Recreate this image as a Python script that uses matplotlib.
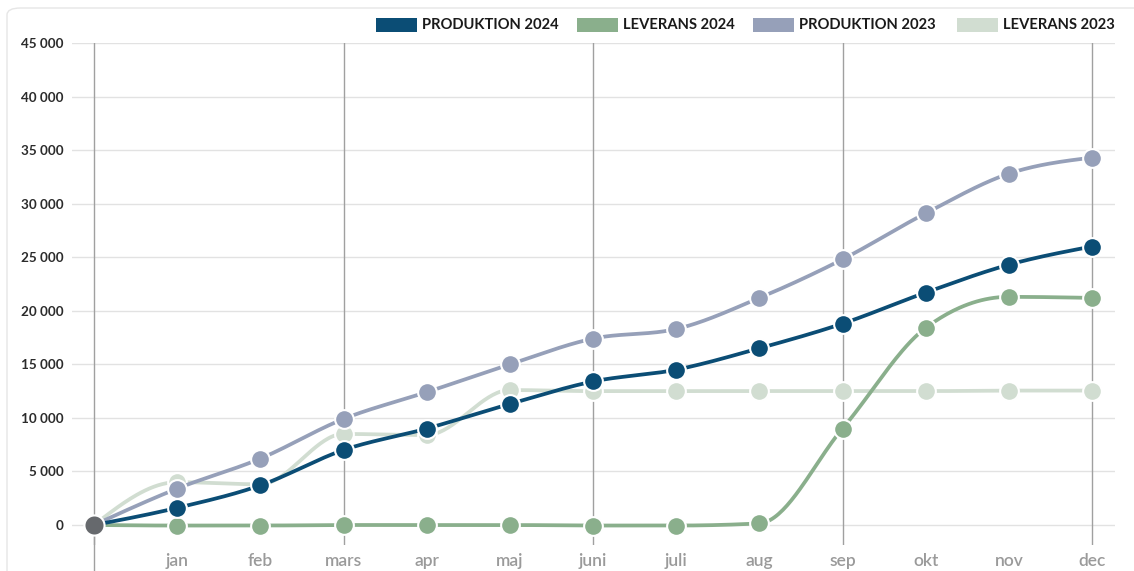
import numpy as np
import matplotlib
matplotlib.use("Agg")
import matplotlib.pyplot as plt
from matplotlib.patches import Rectangle, FancyBboxPatch
from matplotlib.ticker import FuncFormatter

# ---------------- data ----------------
months = ["", "jan", "feb", "mars", "apr", "maj", "juni", "juli", "aug", "sep", "okt", "nov", "dec"]
produktion_2024 = [0, 1600, 3700, 7000, 9000, 11300, 13400, 14500, 16500, 18800, 21700, 24300, 26000]
leverans_2024 = [0, -50, -50, 0, 0, 0, -50, -50, 150, 9000, 18400, 21300, 21200]
produktion_2023 = [0, 3400, 6200, 9900, 12400, 15000, 17400, 18300, 21200, 24800, 29100, 32800, 34300]
leverans_2023 = [0, 4000, 3800, 8500, 8400, 12600, 12500, 12500, 12500, 12500, 12500, 12550, 12550]
series_names = ["PRODUKTION 2024", "LEVERANS 2024", "PRODUKTION 2023", "LEVERANS 2023"]
series_colors = ["#0b4d75", "#8aaf8c", "#96a0b9", "#d1ddd1"]
y_ticks = [0, 5000, 10000, 15000, 20000, 25000, 30000, 35000, 40000, 45000]
vlines_at = [0, 3, 6, 9, 12]
start_color = "#66696d"


def monotone_x(xs, ys, n=40):
    xs = np.asarray(xs, float)
    ys = np.asarray(ys, float)
    h = np.diff(xs)
    s = np.diff(ys) / h
    m = np.zeros_like(ys)
    for i in range(1, len(xs) - 1):
        h0, h1 = h[i - 1], h[i]
        s0, s1 = s[i - 1], s[i]
        p = (s0 * h1 + s1 * h0) / (h0 + h1)
        m[i] = (np.sign(s0) + np.sign(s1)) * min(abs(s0), abs(s1), 0.5 * abs(p))
    m[0] = (3 * s[0] - m[1]) / 2
    m[-1] = (3 * s[-1] - m[-2]) / 2
    px, py = [], []
    for i in range(len(xs) - 1):
        t = np.linspace(0, 1, n)
        dx = h[i]
        x0, x1, y0, y1 = xs[i], xs[i + 1], ys[i], ys[i + 1]
        cx = [x0, x0 + dx / 3, x1 - dx / 3, x1]
        cy = [y0, y0 + dx / 3 * m[i], y1 - dx / 3 * m[i + 1], y1]
        bx = ((1 - t) ** 3) * cx[0] + 3 * ((1 - t) ** 2) * t * cx[1] + 3 * (1 - t) * t ** 2 * cx[2] + t ** 3 * cx[3]
        by = ((1 - t) ** 3) * cy[0] + 3 * ((1 - t) ** 2) * t * cy[1] + 3 * (1 - t) * t ** 2 * cy[2] + t ** 3 * cy[3]
        px.extend(bx)
        py.extend(by)
    return np.array(px), np.array(py)


W, H = 1134, 571
fig = plt.figure(figsize=(W / 100, H / 100), dpi=100)
fig.patch.set_facecolor("white")

# outer rounded frame
fig.patches.append(FancyBboxPatch((7 / W, -20 / H), (W + 20) / W, (H + 12) / H,
                                  boxstyle="round,pad=0,rounding_size=0.012",
                                  transform=fig.transFigure, fill=False,
                                  edgecolor="#e6e6e6", linewidth=1.0))

ax_l, ax_r, ax_t, ax_b = 72, 1115, 43, 545
ax = fig.add_axes([ax_l / W, 1 - ax_b / H, (ax_r - ax_l) / W, (ax_b - ax_t) / H])

x = np.arange(len(months))
y0_px, y45_px = 525, 43
per_px = 45000 / (y0_px - y45_px)
ax.set_ylim(-(ax_b - y0_px) * per_px, 45000)
x0_px, step = 94, (1092 - 94) / 12
ax.set_xlim((ax_l - x0_px) / step, (ax_r - x0_px) / step)

for s in ax.spines.values():
    s.set_visible(False)

for yt in y_ticks:
    ax.axhline(yt, color="#e2e2e2", linewidth=1.0, zorder=0)

for xv in vlines_at:
    ax.plot([xv, xv], [-(ax_b - y0_px) * per_px, 45000], color="#a0a0a0", linewidth=1.0, zorder=0.5)
ax.plot([0, 0], [-(H - y0_px) * per_px, 0], color="#a0a0a0", linewidth=1.0, zorder=0.5, clip_on=False)

all_series = [produktion_2024, leverans_2024, produktion_2023, leverans_2023]
for k in [3, 2, 1, 0]:
    ys = all_series[k]
    px, py = monotone_x(x, ys)
    z = 2 + (3 - k)
    ax.plot(px, py, color=series_colors[k], linewidth=2.7, solid_capstyle="round", zorder=z)
    ax.plot(x[1:], ys[1:], linestyle="none", marker="o", markersize=13.5,
            markerfacecolor=series_colors[k], markeredgecolor="white", markeredgewidth=1.5, zorder=z + 0.1)

ax.plot([0], [0], linestyle="none", marker="o", markersize=14.5, markerfacecolor=start_color,
        markeredgecolor="white", markeredgewidth=1.5, zorder=10)

ax.set_yticks(y_ticks)
ax.yaxis.set_major_formatter(FuncFormatter(lambda v, p: f"{int(v):,}".replace(",", " ")))
ax.tick_params(axis="y", length=0, pad=6, labelsize=9.7, labelcolor="#2b2b2b")
for lab in ax.get_yticklabels():
    lab.set_fontfamily("Lato")
    lab.set_fontweight("bold")

ax.set_xticks(x[1:])
ax.set_xticklabels(months[1:])
ax.tick_params(axis="x", length=0, pad=(559 - ax_b) - 8, labelsize=12.5, labelcolor="#9a9a9a")
for lab in ax.get_xticklabels():
    lab.set_fontfamily("Lato")
    lab.set_fontweight("semibold")

leg_rect_x = [376, 577, 753, 957]
for k in range(4):
    rx = leg_rect_x[k]
    fig.patches.append(Rectangle((rx / W, 1 - 32 / H), 41 / W, 14 / H, transform=fig.transFigure,
                                 facecolor=series_colors[k], edgecolor="none"))
    fig.text((rx + 46) / W, 1 - 25 / H, series_names[k], ha="left", va="center",
             fontsize=10.6, fontfamily="Lato", fontweight="bold", color="#1a1a1a")

fig.savefig("out.png", dpi=100, facecolor="white")
